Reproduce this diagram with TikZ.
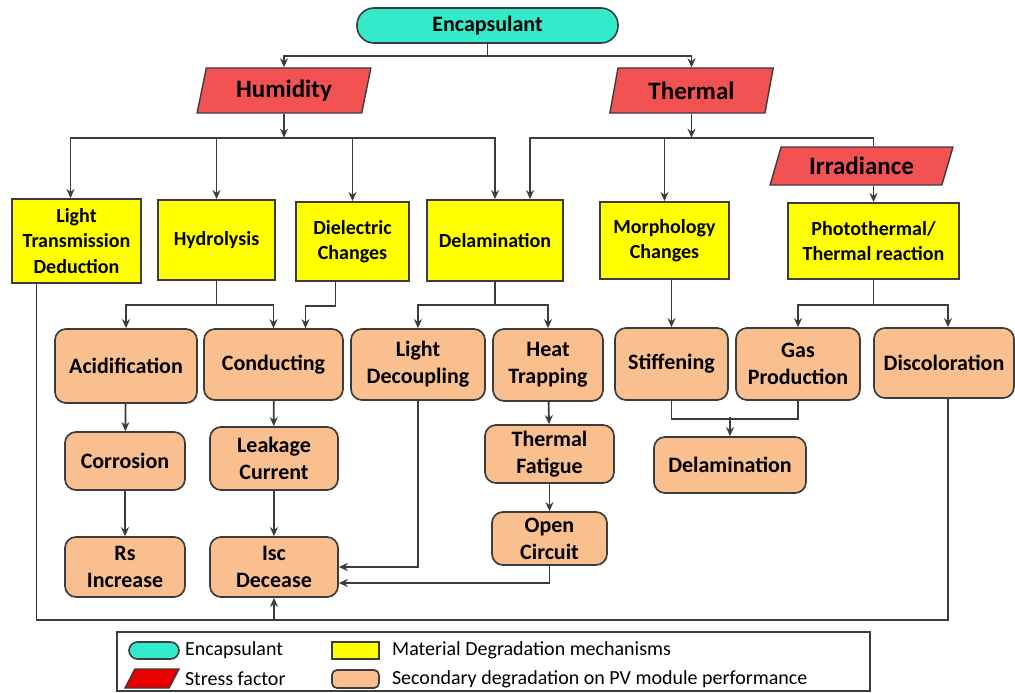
\documentclass[tikz,border=0pt]{standalone}
\usepackage{fontspec}
\setmainfont{Carlito}
\usetikzlibrary{shapes.geometric, arrows.meta, positioning}
\definecolor{encfill}{HTML}{33EBCB}
\definecolor{stressfill}{HTML}{F25252}
\definecolor{mechfill}{HTML}{FFFF00}
\definecolor{secfill}{HTML}{F9BF8F}
\definecolor{edge}{HTML}{3C3C3C}
\tikzset{
  encap/.style={draw=edge, line width=1.6pt, fill=encfill, rounded corners=17pt, inner sep=0pt, font=\fontsize{22}{26}\selectfont\bfseries},
  stress/.style={trapezium, trapezium stretches=true, trapezium left angle=77, trapezium right angle=103, draw=edge, line width=1.4pt, fill=stressfill, inner sep=2pt, font=\fontsize{25}{30}\selectfont\bfseries},
  mech/.style={rectangle, draw=edge, line width=1.9pt, fill=mechfill, align=center, inner sep=0pt, font=\fontsize{20}{25.5}\selectfont\bfseries},
  sec/.style={rectangle, rounded corners=11pt, draw=edge, line width=1.7pt, fill=secfill, align=center, inner sep=0pt, font=\fontsize{22}{27}\selectfont\bfseries},
  keytext/.style={inner sep=0pt, anchor=west, font=\fontsize{20}{24}\selectfont},
  link/.style={draw=edge, line width=1.8pt},
  arr/.style={link, -{Stealth[length=9pt, width=8pt]}},
}

\begin{document}
\begin{tikzpicture}[x=1pt, y=-1pt]
\useasboundingbox (0,0) rectangle (1015,693);

\node[encap, minimum width=261pt, minimum height=35pt] (enc) at (487.5,25.5) {Encapsulant};
\node[stress, minimum width=174pt, minimum height=45pt] (hum) at (284,90.5) {Humidity};
\node[stress, minimum width=165pt, minimum height=45pt] (therm) at (691.5,90.5) {Thermal};
\node[stress, trapezium left angle=71, trapezium right angle=109, minimum width=183pt, minimum height=38pt] (irr) at (861.5,166) {Irradiance};

\node[mech, minimum width=129pt, minimum height=84pt] (ltd) at (76.5,241) {Light\\Transmission\\Deduction};
\node[mech, minimum width=117pt, minimum height=80pt] (hyd) at (216.5,240) {Hydrolysis};
\node[mech, minimum width=113pt, minimum height=79pt] (die) at (352.5,241.5) {Dielectric\\Changes};
\node[mech, minimum width=136pt, minimum height=81pt] (dela) at (495,240.5) {Delamination};
\node[mech, minimum width=129pt, minimum height=77pt] (morph) at (664.5,240.5) {Morphology\\Changes};
\node[mech, minimum width=171pt, minimum height=76pt] (photo) at (873.5,241) {Photothermal/\\Thermal reaction};

\node[sec, minimum width=142pt, minimum height=74pt] (acid) at (126,366) {Acidification};
\node[sec, minimum width=139pt, minimum height=71pt] (cond) at (273.5,364.5) {Conducting};
\node[sec, minimum width=134pt, minimum height=71pt] (ldec) at (418,364.5) {Light\\Decoupling};
\node[sec, minimum width=110pt, minimum height=72pt] (heat) at (548,365) {Heat\\Trapping};
\node[sec, minimum width=113pt, minimum height=72pt] (stiff) at (671.5,364) {Stiffening};
\node[sec, minimum width=124pt, minimum height=72pt] (gas) at (798,364) {Gas\\Production};
\node[sec, minimum width=140pt, minimum height=70pt] (disc) at (944,363) {Discoloration};
\node[sec, minimum width=120pt, minimum height=58pt] (corr) at (125,461) {Corrosion};
\node[sec, minimum width=128pt, minimum height=63pt] (leak) at (274,458.5) {Leakage\\Current};
\node[sec, minimum width=120pt, minimum height=60pt] (rs) at (125,567) {Rs\\Increase};
\node[sec, minimum width=128pt, minimum height=60pt] (isc) at (274,567) {Isc\\Decease};
\node[sec, minimum width=129pt, minimum height=58pt] (fat) at (549.5,454) {Thermal\\Fatigue};
\node[sec, minimum width=115pt, minimum height=53pt] (open) at (549.5,538.5) {Open\\Circuit};
\node[sec, minimum width=152pt, minimum height=56pt] (dela2) at (730,465) {Delamination};

\draw[link] (enc.south) -- ++(0,12) coordinate (ej);
\draw[arr] (ej) -| (hum.north);
\draw[arr] (ej) -| (therm.north);

\draw[arr] (hum.south) -- ++(0,24) coordinate (hj);
\draw[arr] (hj) -| ([xshift=-6pt]ltd.north);
\foreach \n in {hyd, die, dela}
  \draw[arr] (hj) -| (\n.north);

\draw[arr] (therm.south) -- ++(0,24) coordinate (tj);
\draw[arr] (tj) -| ([xshift=35pt]dela.north);
\draw[arr] (tj) -| (morph.north);
\draw[link] (tj) -| (irr.north -| photo.north);
\draw[arr] (irr.south -| photo.north) -- (photo.north);

\draw[link] (hyd.south) -- ++(0,24) coordinate (yj);
\draw[arr] (yj) -| (acid.north);
\draw[arr] (yj) -| (cond.north);
\draw[arr] ([xshift=-17pt]die.south) -- ++(0,24) -| ([xshift=32pt]cond.north);

\draw[link] (dela.south) -- ++(0,23) coordinate (dj);
\draw[arr] (dj) -| (ldec.north);
\draw[arr] (dj) -| (heat.north);

\draw[arr] (stiff.north |- morph.south) -- (stiff.north);

\draw[link] (photo.south) -- ++(0,25) coordinate (pj);
\draw[arr] (pj) -| (gas.north);
\draw[arr] (pj) -| ([xshift=4pt]disc.north);

\draw[arr] (acid) -- (corr);
\draw[arr] (corr) -- (rs);
\draw[arr] (cond) -- (leak);
\draw[arr] (leak) -- (isc);
\draw[arr] (heat) -- (fat);
\draw[arr] (fat) -- (open);

\draw[link] (stiff.south) -- ++(0,18) -| (gas.south);
\draw[arr] ([yshift=19pt]dela2.north) -- (dela2.north);

\draw[arr] (ldec.south) |- (isc.east);
\draw[arr] (open.south) |- ([yshift=-16pt]isc.east);

\draw[link] ([xshift=-40pt]ltd.south) -- ++(0,336) -| ([xshift=4pt]disc.south);
\draw[arr] ([yshift=-22pt]isc.south) -- (isc.south);

\draw[edge, line width=1.3pt] (117,632) rectangle (870,691);
\node[encap, minimum width=50pt, minimum height=17pt, rounded corners=8.5pt] (kenc) at (154,650.5) {};
\node[stress, fill=red!92!black, trapezium left angle=74, trapezium right angle=106, minimum width=54pt, minimum height=19pt] (kstr) at (152,678.5) {};
\node[mech, minimum width=47pt, minimum height=17pt] (kmech) at (355.5,650.5) {};
\node[sec, rounded corners=5pt, minimum width=47pt, minimum height=18pt] (ksec) at (355.5,679) {};
\node[keytext, right=5pt of kenc] (tenc) {Encapsulant};
\node[keytext] at (tenc.west |- kstr) {Stress factor};
\node[keytext, right=12pt of kmech] {Material Degradation mechanisms};
\node[keytext, right=12pt of ksec] {Secondary degradation on PV module performance};
\end{tikzpicture}
\end{document}
